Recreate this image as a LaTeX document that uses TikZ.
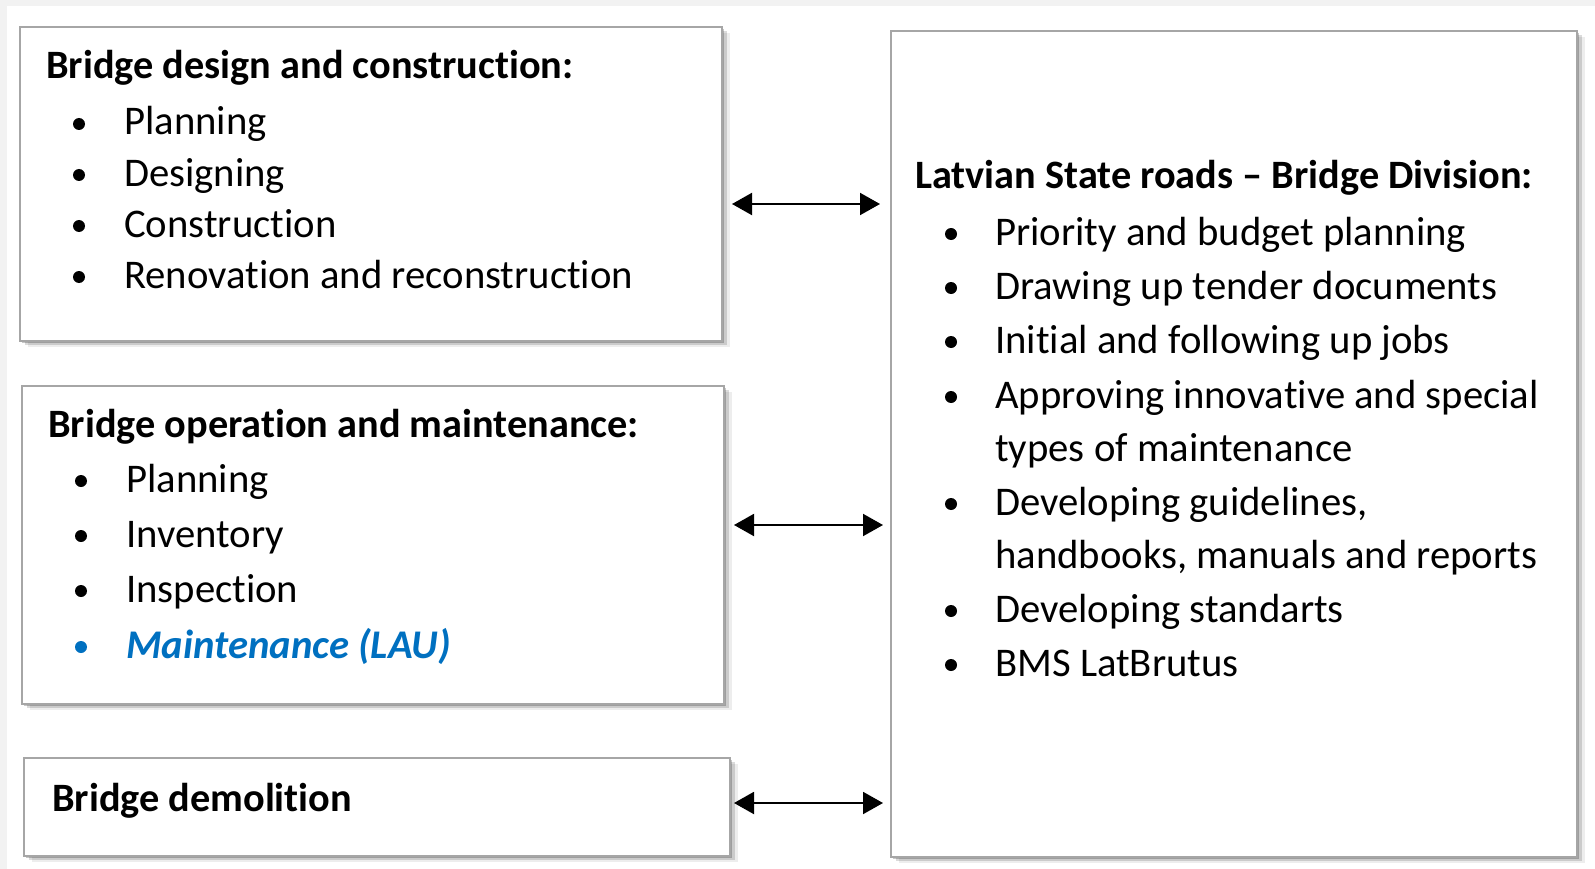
\documentclass[tikz,border=0pt]{standalone}
\usepackage{fontspec}
\setmainfont{Carlito}[Ligatures=NoCommon]
\usetikzlibrary{arrows.meta,shadows,calc}
\definecolor{bgray}{HTML}{F2F2F2}
\definecolor{edgegray}{HTML}{A6A6A6}
\definecolor{lau}{HTML}{0070C0}
\tikzset{
  box/.style={draw=edgegray, line width=1.5pt, fill=white, anchor=north west,
    inner sep=0pt, outer sep=0pt,
    drop shadow={shadow xshift=2pt, shadow yshift=-2pt, opacity=0.22, fill=black},
    drop shadow={shadow xshift=5pt, shadow yshift=-4pt, opacity=0.14, fill=black},
    drop shadow={shadow xshift=8pt, shadow yshift=-6pt, opacity=0.07, fill=black}},
  ttl/.style={anchor=base west, inner sep=0pt, font=\fontsize{40.3}{48}\selectfont\bfseries},
  itm/.style={anchor=base west, inner sep=0pt, font=\fontsize{40.7}{48}\selectfont},
  blu/.style={itm, text=lau, font=\fontsize{40.7}{48}\selectfont\bfseries\itshape},
  arr/.style={{Triangle[length=20pt,width=22pt]}-{Triangle[length=20pt,width=22pt]}, line width=2pt},
}
\newcommand{\bul}[3][black]{\fill[#1] (#2,#3-11) circle (6);}
\begin{document}
\begin{tikzpicture}[x=1pt,y=-1pt]
\useasboundingbox (0,0) rectangle (1595,869);
\fill[bgray] (0,0) rectangle (1595,869);
\fill[white] (7,6) rectangle (1595,869);

% boxes
\node[box, minimum width=702pt, minimum height=314pt] (b1) at (20,27) {};
\node[box, minimum width=702pt, minimum height=318pt] (b2) at (22,386) {};
\node[box, minimum width=706pt, minimum height=98pt] (b3) at (24,758) {};
\node[box, minimum width=686pt, minimum height=826pt] (rb) at (891,31) {};

% box 1
\node[ttl] (t1) at (46,79) {Bridge design and construction:};
\bul{79}{135}\node[itm] (i11) at (124,135) {Planning};
\bul{79}{186}\node[itm] (i12) at (124,186) {Designing};
\bul{79}{237}\node[itm] (i13) at (124,237) {Construction};
\bul{79}{288}\node[itm] (i14) at (124,288) {Renovation and reconstruction};

% box 2
\node[ttl] (t2) at (48,437) {Bridge operation and maintenance:};
\bul{81}{492}\node[itm] (i21) at (126,492) {Planning};
\bul{81}{547}\node[itm] (i22) at (126,547) {Inventory};
\bul{81}{602}\node[itm] (i23) at (126,602) {Inspection};
\bul[lau]{81}{658}\node[blu] (i24) at (126,658) {Maintenance (LAU)};

% box 3
\node[ttl] (t3) at (52,811) {Bridge demolition};

% right box
\node[ttl] (tr) at (915,189) {Latvian State roads -- Bridge Division:};
\bul{951}{245}\node[itm] (r1) at (995,245) {Priority and budget planning};
\bul{951}{299}\node[itm] (r2) at (995,299) {Drawing up tender documents};
\bul{951}{353}\node[itm] (r3) at (995,353) {Initial and following up jobs};
\bul{951}{408}\node[itm] (r4) at (995,408) {Approving innovative and special};
\node[itm] (r4b) at (995,461) {types of maintenance};
\bul{951}{515}\node[itm] (r5) at (995,515) {Developing guidelines,};
\node[itm] (r5b) at (995,568) {handbooks, manuals and reports};
\bul{951}{622}\node[itm] (r6) at (995,622) {Developing standarts};
\bul{951}{676}\node[itm] (r7) at (995,676) {BMS LatBrutus};

% arrows
\coordinate (a1) at (0,204);
\coordinate (a2) at (0,525);
\coordinate (a3) at (0,803);
\draw[arr] ($(b1.east |- a1)+(10,0)$) -- ($(rb.west |- a1)+(-11,0)$);
\draw[arr] ($(b2.east |- a2)+(10,0)$) -- ($(rb.west |- a2)+(-8,0)$);
\draw[arr] ($(b3.east |- a3)+(4,0)$) -- ($(rb.west |- a3)+(-8,0)$);
\end{tikzpicture}
\end{document}
